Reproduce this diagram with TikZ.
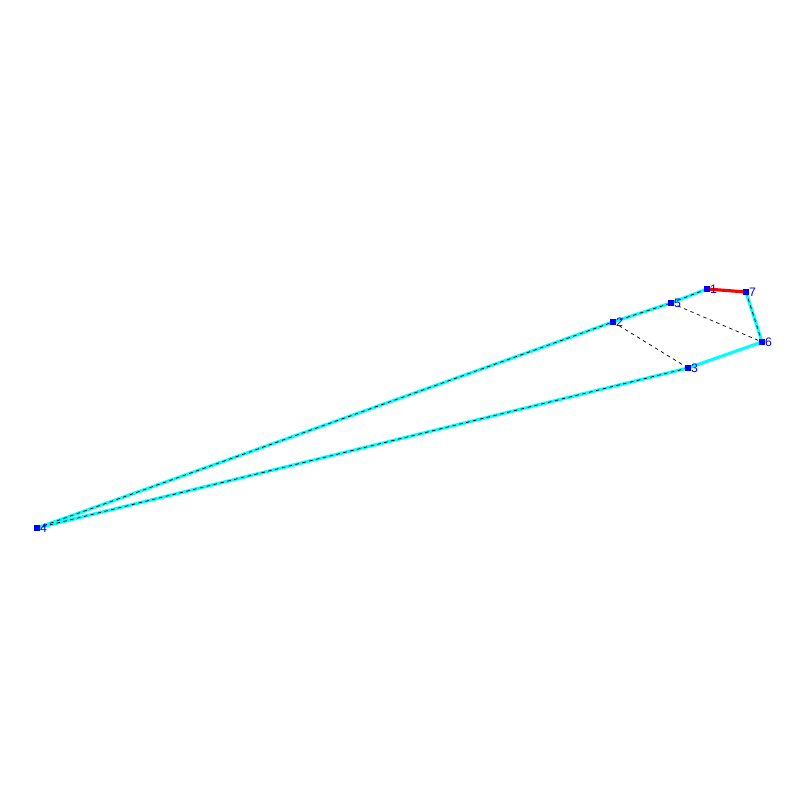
\documentclass[tikz,border=0pt]{standalone}
\usepackage{fontspec}
\setmainfont{Liberation Sans}
\begin{document}
\begin{tikzpicture}[x=0.03cm,y=-0.03cm,
  pt/.style={fill={rgb,255:red,0;green,0;blue,255}, minimum size=7*0.85pt, inner sep=0pt, outer sep=0pt, draw=none,
    label={[text={rgb,255:red,0;green,0;blue,255}, font=\fontsize{10.5}{12}\selectfont, inner sep=0.5pt, anchor=west, xshift=-1pt]east:#1}},
  cyanedge/.style={draw={rgb,255:red,0;green,255;blue,255}, line width=2.7pt},
  dashedge/.style={draw=black, line width=0.6pt, dash pattern=on 3pt off 3pt},
  rededge/.style={draw={rgb,255:red,255;green,0;blue,0}, line width=2.7pt}]
\useasboundingbox (0,0) rectangle (800,800);
\coordinate (c1) at (707,289);
\coordinate (c7) at (746,292);
\coordinate (c5) at (671,303);
\coordinate (c2) at (613,322);
\coordinate (c6) at (762,342);
\coordinate (c3) at (688,368);
\coordinate (c4) at (37,528);
\draw[cyanedge] (c4) -- (c2) -- (c5) -- (c1);
\draw[cyanedge] (c7) -- (c6) -- (c3) -- (c4);
\draw[dashedge] (c4) -- (c2);
\draw[dashedge] (c2) -- (c5);
\draw[dashedge] (c5) -- (c1);
\draw[dashedge] (c7) -- (c6);
\draw[dashedge] (c3) -- (c4);
\draw[dashedge] (c2) -- (c3);
\draw[dashedge] (c5) -- (c6);
\draw[rededge] (c1) -- (c7);
\node[pt=1] (n1) at (c1) {};
\node[pt=7] (n7) at (c7) {};
\node[pt=5] (n5) at (c5) {};
\node[pt=2] (n2) at (c2) {};
\node[pt=6] (n6) at (c6) {};
\node[pt=3] (n3) at (c3) {};
\node[pt=4] (n4) at (c4) {};
\end{tikzpicture}
\end{document}
